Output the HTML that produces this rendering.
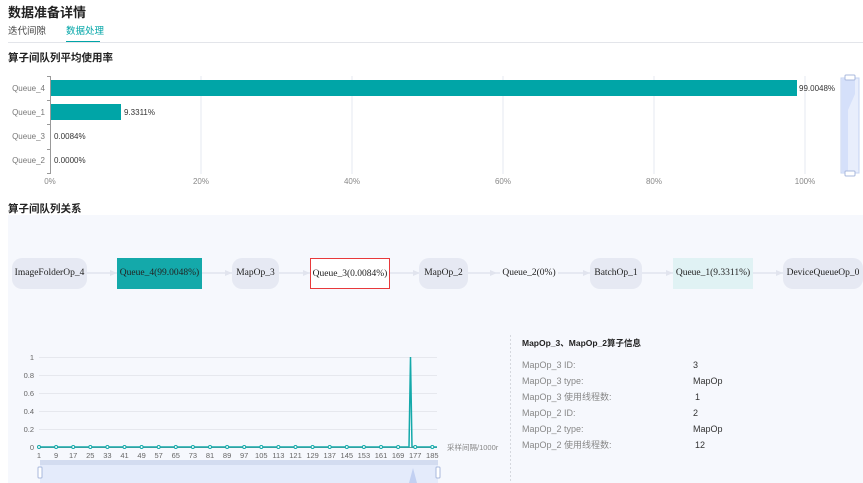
<!DOCTYPE html>
<html><head><meta charset="utf-8"><style>
body{margin:0;width:863px;height:483px;overflow:hidden;background:#fff;font-family:"Liberation Sans","Noto Sans CJK SC",sans-serif;position:relative}
.a{position:absolute;white-space:nowrap}
.node{position:absolute;top:258px;height:31px;line-height:31px;text-align:center;font-family:"Liberation Serif","Noto Serif CJK SC",serif;font-size:9.5px;color:#222;box-sizing:border-box}
.op{background:#e6e9f3;border-radius:10px}
.lbl{font-size:9px;color:#888;line-height:12px;height:12px}
.val{font-size:9px;color:#333;line-height:12px;height:12px}
</style></head><body>
<div class="a" style="left:8px;top:4px;font-size:13px;font-weight:bold;color:#222;line-height:18px">数据准备详情</div>
<div class="a" style="left:8px;top:25px;font-size:9.5px;color:#444;line-height:13px">迭代间隙</div>
<div class="a" style="left:66px;top:25px;font-size:9.5px;color:#00a5a7;line-height:13px">数据处理</div>
<div class="a" style="left:66px;top:41px;width:34px;height:2px;background:#00a5a7"></div>
<div class="a" style="left:8px;top:42px;width:855px;height:1px;background:#e3e5ea"></div>
<div class="a" style="left:8px;top:51px;font-size:10.5px;font-weight:bold;color:#222;line-height:14px">算子间队列平均使用率</div>

<svg class="a" style="left:0;top:0" width="863" height="200">
<g stroke="#e6e8f0" stroke-width="1">
<line x1="201" y1="76" x2="201" y2="174"/><line x1="352" y1="76" x2="352" y2="174"/><line x1="503" y1="76" x2="503" y2="174"/><line x1="654" y1="76" x2="654" y2="174"/><line x1="805" y1="76" x2="805" y2="174"/>
</g>
<line x1="50.5" y1="76" x2="50.5" y2="174" stroke="#999"/>
<g stroke="#999"><line x1="47" y1="76.5" x2="50" y2="76.5"/><line x1="47" y1="100.5" x2="50" y2="100.5"/><line x1="47" y1="124.5" x2="50" y2="124.5"/><line x1="47" y1="149.5" x2="50" y2="149.5"/><line x1="47" y1="173.5" x2="50" y2="173.5"/></g>
<rect x="51" y="80" width="746" height="16" fill="#00a5a7"/>
<rect x="51" y="104" width="70" height="16" fill="#00a5a7"/>
<g font-size="8" fill="#777" text-anchor="end"><text x="45" y="91">Queue_4</text><text x="45" y="115">Queue_1</text><text x="45" y="139">Queue_3</text><text x="45" y="163">Queue_2</text></g>
<g font-size="8" fill="#333"><text x="799" y="91">99.0048%</text><text x="124" y="115">9.3311%</text><text x="54" y="139">0.0084%</text><text x="54" y="163">0.0000%</text></g>
<g font-size="8" fill="#888" text-anchor="middle"><text x="50" y="184">0%</text><text x="201" y="184">20%</text><text x="352" y="184">40%</text><text x="503" y="184">60%</text><text x="654" y="184">80%</text><text x="805" y="184">100%</text></g>
<rect x="841" y="78" width="18" height="95" fill="#e8eefc" stroke="#c5d3f2"/>
<polygon points="842,78 855,78 855,94 848,110 848,173 842,173" fill="#d5e0fa"/>
<rect x="845" y="75" width="10" height="5" rx="1" fill="#fff" stroke="#a9b8dc"/>
<rect x="845" y="171" width="10" height="5" rx="1" fill="#fff" stroke="#a9b8dc"/>
</svg>

<div class="a" style="left:8px;top:203px;font-size:10.5px;font-weight:bold;color:#222;line-height:13px">算子间队列关系</div>
<div class="a" style="left:8px;top:215px;width:855px;height:268px;background:#f6f8fd"></div>
<svg class="a" style="left:0;top:0" width="863" height="483">
<g stroke="#e1e4ee" stroke-width="1.5">
<line x1="87" y1="273" x2="117" y2="273"/><line x1="202" y1="273" x2="232" y2="273"/><line x1="279" y1="273" x2="310" y2="273"/><line x1="390" y1="273" x2="420" y2="273"/><line x1="468" y1="273" x2="500" y2="273"/><line x1="558" y1="273" x2="590" y2="273"/><line x1="642" y1="273" x2="673" y2="273"/><line x1="753" y1="273" x2="783" y2="273"/>
</g>
<g fill="#e1e4ee">
<polygon points="117,273 110,270 110,276"/><polygon points="232,273 225,270 225,276"/><polygon points="310,273 303,270 303,276"/><polygon points="420,273 413,270 413,276"/><polygon points="497,273 490,270 490,276"/><polygon points="590,273 583,270 583,276"/><polygon points="673,273 666,270 666,276"/><polygon points="783,273 776,270 776,276"/>
</g>
</svg>
<div class="node op" style="left:12px;width:75px">ImageFolderOp_4</div>
<div class="node" style="left:117px;width:85px;background:#14a9aa">Queue_4(99.0048%)</div>
<div class="node op" style="left:232px;width:47px">MapOp_3</div>
<div class="node" style="left:310px;width:80px;background:#fff;border:1px solid #e8393b">Queue_3(0.0084%)</div>
<div class="node op" style="left:419px;width:49px">MapOp_2</div>
<div class="node" style="left:500px;width:58px">Queue_2(0%)</div>
<div class="node op" style="left:590px;width:52px">BatchOp_1</div>
<div class="node" style="left:673px;width:80px;background:#e0f2f4">Queue_1(9.3311%)</div>
<div class="node op" style="left:783px;width:80px">DeviceQueueOp_0</div>

<svg class="a" style="left:0;top:0" width="863" height="483">
<g stroke="#e6e8ee"><line x1="39" y1="357.5" x2="437" y2="357.5"/><line x1="39" y1="375.5" x2="437" y2="375.5"/><line x1="39" y1="393.5" x2="437" y2="393.5"/><line x1="39" y1="411.5" x2="437" y2="411.5"/><line x1="39" y1="429.5" x2="437" y2="429.5"/></g>
<line x1="39" y1="447.5" x2="437" y2="447.5" stroke="#888"/>
<g font-size="7.5" fill="#666" text-anchor="end"><text x="34" y="360">1</text><text x="34" y="378">0.8</text><text x="34" y="396">0.6</text><text x="34" y="414">0.4</text><text x="34" y="432">0.2</text><text x="34" y="450">0</text></g>
<polyline points="39,447 409,447 410.5,357 412,447 437,447" fill="none" stroke="#14a9aa" stroke-width="1.5"/>
<g fill="#fff" stroke="#14a9aa" stroke-width="1">
<circle cx="39" cy="447" r="1.5"/><circle cx="56.1" cy="447" r="1.5"/><circle cx="73.2" cy="447" r="1.5"/><circle cx="90.3" cy="447" r="1.5"/><circle cx="107.4" cy="447" r="1.5"/><circle cx="124.5" cy="447" r="1.5"/><circle cx="141.6" cy="447" r="1.5"/><circle cx="158.7" cy="447" r="1.5"/><circle cx="175.8" cy="447" r="1.5"/><circle cx="192.9" cy="447" r="1.5"/><circle cx="210" cy="447" r="1.5"/><circle cx="227.1" cy="447" r="1.5"/><circle cx="244.2" cy="447" r="1.5"/><circle cx="261.3" cy="447" r="1.5"/><circle cx="278.4" cy="447" r="1.5"/><circle cx="295.5" cy="447" r="1.5"/><circle cx="312.6" cy="447" r="1.5"/><circle cx="329.7" cy="447" r="1.5"/><circle cx="346.8" cy="447" r="1.5"/><circle cx="363.9" cy="447" r="1.5"/><circle cx="381" cy="447" r="1.5"/><circle cx="398.1" cy="447" r="1.5"/><circle cx="415.2" cy="447" r="1.5"/><circle cx="432.3" cy="447" r="1.5"/>
</g>
<g font-size="7.5" fill="#666" text-anchor="middle">
<text x="39" y="458">1</text><text x="56.1" y="458">9</text><text x="73.2" y="458">17</text><text x="90.3" y="458">25</text><text x="107.4" y="458">33</text><text x="124.5" y="458">41</text><text x="141.6" y="458">49</text><text x="158.7" y="458">57</text><text x="175.8" y="458">65</text><text x="192.9" y="458">73</text><text x="210" y="458">81</text><text x="227.1" y="458">89</text><text x="244.2" y="458">97</text><text x="261.3" y="458">105</text><text x="278.4" y="458">113</text><text x="295.5" y="458">121</text><text x="312.6" y="458">129</text><text x="329.7" y="458">137</text><text x="346.8" y="458">145</text><text x="363.9" y="458">153</text><text x="381" y="458">161</text><text x="398.1" y="458">169</text><text x="415.2" y="458">177</text><text x="432.3" y="458">185</text>
</g>
<text x="447" y="450" font-size="7.5" fill="#888">采样间隔/1000r</text>
<rect x="40" y="460" width="398" height="23" fill="#e4ebfb"/>
<rect x="40" y="460" width="398" height="5" fill="#d3dcf0"/>
<polygon points="409,483 413,468 417,483" fill="#c2d0f2"/>
<rect x="38" y="467" width="4" height="11" rx="1" fill="#fff" stroke="#a9b8dc"/>
<rect x="436" y="467" width="4" height="11" rx="1" fill="#fff" stroke="#a9b8dc"/>
<line x1="510.5" y1="335" x2="510.5" y2="483" stroke="#d5d8de" stroke-dasharray="2,2"/>
</svg>

<div class="a" style="left:522px;top:338px;font-size:8.5px;font-weight:bold;color:#222;line-height:11px">MapOp_3、MapOp_2算子信息</div>
<div class="a lbl" style="left:522px;top:359px">MapOp_3 ID:</div><div class="a val" style="left:693px;top:359px">3</div>
<div class="a lbl" style="left:522px;top:375px">MapOp_3 type:</div><div class="a val" style="left:693px;top:375px">MapOp</div>
<div class="a lbl" style="left:522px;top:391px">MapOp_3 使用线程数:</div><div class="a val" style="left:695px;top:391px">1</div>
<div class="a lbl" style="left:522px;top:407px">MapOp_2 ID:</div><div class="a val" style="left:693px;top:407px">2</div>
<div class="a lbl" style="left:522px;top:423px">MapOp_2 type:</div><div class="a val" style="left:693px;top:423px">MapOp</div>
<div class="a lbl" style="left:522px;top:439px">MapOp_2 使用线程数:</div><div class="a val" style="left:695px;top:439px">12</div>
</body></html>
